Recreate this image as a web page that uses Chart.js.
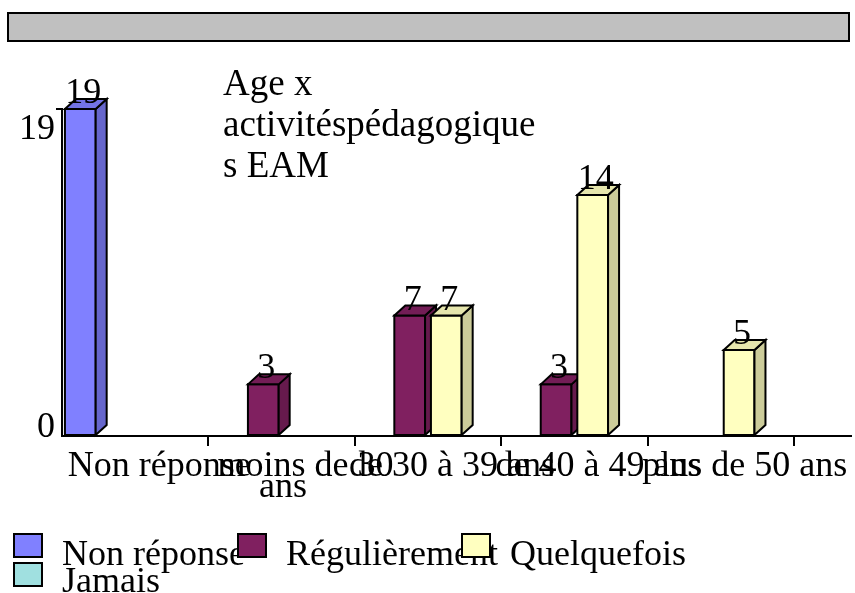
<!DOCTYPE html>
<html>
<head>
<meta charset="utf-8">
<script src="https://cdn.jsdelivr.net/npm/chart.js@4"></script>
<style>
	body { margin: 0; background: #fff; }
	#wrap { position: relative; width: 855px; height: 593px; overflow: hidden; font-family: "Liberation Serif", serif; }
	#band { position: absolute; left: 7px; top: 12px; width: 839px; height: 26px; background: #c0c0c0; border: 2px solid #000; }
	#title { position: absolute; left: 223px; top: 62px; font-size: 37px; line-height: 41px; color: #000; }
	#chart { position: absolute; left: 0; top: 0; }
	.lg-box { position: absolute; width: 26px; height: 21px; border: 2px solid #000; }
	.lg-text { position: absolute; font-size: 36px; line-height: 36px; color: #000; white-space: nowrap; }
</style>
</head>
<body>
<div id="wrap">
	<div id="band"></div>
	<canvas id="chart" width="855" height="593"></canvas>
	<div id="title">Age x<br>activitéspédagogique<br>s EAM</div>
	<div id="legend"></div>
</div>
<script>
// Age groups on the x axis
const categories = [
	"Non réponse",
	["moins de 30", "ans     "],
	"de 30 à 39 ans",
	"de 40 à 49 ans",
	"plus de 50 ans",
];

// Answer series (empty cells left as null)
const seriesNames = ["Non réponse", "Régulièrement", "Quelquefois", "Jamais"];
const nonReponse = [19, null, null, null, null];
const regulierement = [null, 3, 7, 3, null];
const quelquefois = [null, null, 7, 14, 5];
const jamais = [null, null, null, null, null];
const seriesColors = ["#8080ff", "#802060", "#ffffc0", "#a0e0e0"];

// Value axis ticks
const yTicks = [0, 19];

const serif = "Liberation Serif";
const depthX = 11;
const depthY = 10;
const clear = "rgba(0, 0, 0, 0)";

// Darken a hex colour for the side / top faces
function shade(hex, f) {
	const n = parseInt(hex.slice(1), 16);
	const r = Math.round(((n >> 16) & 255) * f);
	const g = Math.round(((n >> 8) & 255) * f);
	const b = Math.round((n & 255) * f);
	return `rgb(${r}, ${g}, ${b})`;
}

function poly(ctx, pts, fill) {
	ctx.beginPath();
	ctx.moveTo(pts[0][0], pts[0][1]);
	pts.slice(1).forEach((p) => ctx.lineTo(p[0], p[1]));
	ctx.closePath();
	ctx.fillStyle = fill;
	ctx.fill();
	ctx.stroke();
}

// Redraw every bar as a small box, then put the value above it
const boxBars = {
	id: "boxBars",
	afterDatasetsDraw(chart) {
		const ctx = chart.ctx;
		const area = chart.chartArea;
		ctx.save();
		ctx.strokeStyle = "#000";
		ctx.lineWidth = 2;

		// floor line runs on past the last category
		ctx.beginPath();
		ctx.moveTo(area.right, area.bottom);
		ctx.lineTo(area.right + 58, area.bottom);
		ctx.stroke();

		chart.data.datasets.forEach((ds, di) => {
			const meta = chart.getDatasetMeta(di);
			meta.data.forEach((bar, i) => {
				if (ds.data[i] == null) return;
				const { x, y, base, width } = bar.getProps(["x", "y", "base", "width"], true);
				const l = x - width / 2;
				const r = x + width / 2;
				const col = ds.backgroundColor;
				poly(ctx, [[l, y], [r, y], [r, base], [l, base]], col);
				poly(ctx, [[r, y], [r + depthX, y - depthY], [r + depthX, base - depthY], [r, base]], shade(col, 0.8));
				poly(ctx, [[l, y], [l + depthX, y - depthY], [r + depthX, y - depthY], [r, y]], shade(col, 0.9));
			});
		});

		ctx.fillStyle = "#000";
		ctx.font = `36px "${serif}"`;
		ctx.textAlign = "center";
		ctx.textBaseline = "alphabetic";
		chart.data.datasets.forEach((ds, di) => {
			const meta = chart.getDatasetMeta(di);
			meta.data.forEach((bar, i) => {
				if (ds.data[i] == null) return;
				ctx.fillText(String(ds.data[i]), bar.x + 3, bar.y - 6);
			});
		});
		ctx.restore();
	},
};

const seriesData = [nonReponse, regulierement, quelquefois, jamais];

new Chart(document.getElementById("chart"), {
	type: "bar",
	data: {
		labels: categories,
		datasets: seriesNames.map((name, k) => ({
			label: name,
			data: seriesData[k],
			backgroundColor: seriesColors[k],
			borderWidth: 0,
		})),
	},
	options: {
		responsive: false,
		animation: false,
		events: [],
		layout: { padding: { left: 0, right: 61, top: 109, bottom: 0 } },
		datasets: { bar: { categoryPercentage: 1, barPercentage: 0.84 } },
		plugins: {
			legend: { display: false },
			tooltip: { enabled: false },
			title: { display: false },
		},
		scales: {
			x: {
				grid: {
					drawOnChartArea: false,
					tickLength: 10,
					color: (c) => (c.index === 0 ? clear : "#000"),
					lineWidth: 2,
					offset: true,
				},
				border: { display: true, color: "#000", width: 2 },
				ticks: {
					color: "#000",
					font: { family: serif, size: 36, lineHeight: 0.58 },
					padding: 10,
					labelOffset: 24,
					maxRotation: 0,
					autoSkip: false,
				},
				afterFit: (s) => { s.height = 157; },
			},
			y: {
				min: 0,
				max: 19,
				afterBuildTicks: (s) => { s.ticks = yTicks.map((v) => ({ value: v })); },
				grid: {
					drawOnChartArea: false,
					tickLength: 6,
					color: (c) => (c.tick && c.tick.value === 0 ? clear : "#000"),
					lineWidth: 2,
				},
				border: { display: true, color: "#000", width: 2 },
				ticks: {
					color: "#000",
					padding: 1,
					labelOffset: -8,
					font: (c) => ({ family: serif, size: 36, lineHeight: c.tick && c.tick.value === 19 ? 1.6 : 1.2 }),
					callback: (v) => (v === 19 ? ["", "19"] : String(v)),
				},
				afterFit: (s) => { s.width = 62; },
			},
		},
	},
	plugins: [boxBars],
});

// Legend: three per row, like the original
const legend = document.getElementById("legend");
seriesNames.forEach((name, k) => {
	const row = Math.floor(k / 3);
	const col = k % 3;
	const box = document.createElement("div");
	box.className = "lg-box";
	box.style.left = 13 + col * 224 + "px";
	box.style.top = 533 + row * 29 + "px";
	box.style.background = seriesColors[k];
	const txt = document.createElement("div");
	txt.className = "lg-text";
	txt.style.left = 62 + col * 224 + "px";
	txt.style.top = 535 + row * 27 + "px";
	txt.textContent = name;
	legend.appendChild(box);
	legend.appendChild(txt);
});
</script>
</body>
</html>
